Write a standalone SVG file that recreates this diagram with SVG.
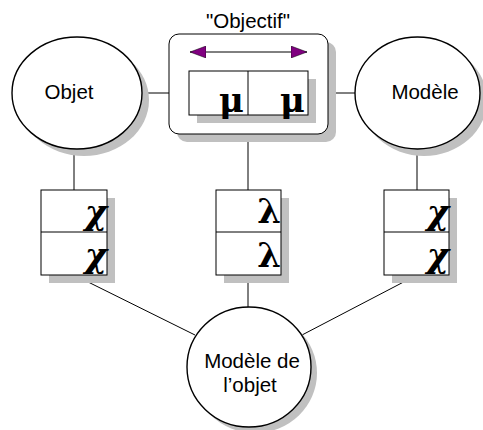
<svg xmlns="http://www.w3.org/2000/svg" width="483" height="430" viewBox="0 0 483 430">
<defs>
<style>
.sh{fill:#c0c0c0;stroke:none}
.nd{fill:#fff;stroke:#000;stroke-width:1.4}
.bx{fill:#fff;stroke:#000;stroke-width:1}
.ln{stroke:#000;stroke-width:1;fill:none}
.lb{font-family:"Liberation Sans",Arial,sans-serif;font-size:20.5px;fill:#000;text-anchor:middle}
.gk{font-family:"DejaVu Serif",serif;font-size:34px;font-weight:bold;fill:#000;text-anchor:end}
.gi{font-style:italic}
</style>
<marker id="ah" viewBox="0 0 16 12" refX="16" refY="6" markerWidth="16" markerHeight="12" markerUnits="userSpaceOnUse" orient="auto-start-reverse">
<path d="M0,0 L16,6 L0,12 Z" fill="#800080" stroke="#000" stroke-width="0.5"/>
</marker>
</defs>
<rect width="483" height="430" fill="#fff"/>
<g id="connectors">
<line class="ln" x1="142" y1="93" x2="189" y2="93"/>
<line class="ln" x1="308" y1="93" x2="355" y2="93"/>
<line class="ln" x1="74" y1="149" x2="74" y2="190"/>
<line class="ln" x1="417" y1="149" x2="417" y2="190"/>
<line class="ln" x1="248" y1="134" x2="248" y2="190"/>
<line class="ln" x1="248" y1="275" x2="248" y2="307"/>
<line class="ln" x1="74" y1="275" x2="195" y2="335"/>
<line class="ln" x1="417" y1="275" x2="302" y2="335"/>
</g>
<g id="objet">
<ellipse class="sh" cx="84" cy="100" rx="65" ry="56"/>
<ellipse class="nd" cx="77" cy="93" rx="65" ry="56"/>
<text class="lb" x="69" y="99">Objet</text>
</g>
<g id="modele">
<ellipse class="sh" cx="424" cy="100" rx="63" ry="56"/>
<ellipse class="nd" cx="417.5" cy="93" rx="62.5" ry="56"/>
<text class="lb" x="425" y="99">Modèle</text>
</g>
<g id="objectif">
<text class="lb" x="248" y="28">"Objectif"</text>
<rect class="sh" x="177" y="42" width="159" height="100" rx="10"/>
<rect class="bx" x="169" y="34" width="159" height="100" rx="10"/>
<line class="ln" x1="190" y1="52" x2="307" y2="52" marker-start="url(#ah)" marker-end="url(#ah)"/>
<rect class="sh" x="197" y="79" width="119" height="44"/>
<rect class="bx" x="189" y="71" width="119" height="44"/>
<line class="ln" x1="248" y1="71" x2="248" y2="115"/>
<text class="gk" x="244" y="112">μ</text>
<text class="gk" x="305" y="112">μ</text>
</g>
<g id="chi-left">
<rect class="sh" x="49" y="198" width="66" height="85"/>
<rect class="bx" x="41" y="190" width="66" height="85"/>
<line class="ln" x1="41" y1="232" x2="107" y2="232"/>
<text class="gk gi" x="107" y="224">χ</text>
<text class="gk gi" x="107" y="267">χ</text>
</g>
<g id="lambda">
<rect class="sh" x="224" y="198" width="65" height="85"/>
<rect class="bx" x="216" y="190" width="65" height="85"/>
<line class="ln" x1="216" y1="232" x2="281" y2="232"/>
<text class="gk" x="281" y="223">λ</text>
<text class="gk" x="281" y="267">λ</text>
</g>
<g id="chi-right">
<rect class="sh" x="392" y="198" width="65" height="85"/>
<rect class="bx" x="384" y="190" width="65" height="85"/>
<line class="ln" x1="384" y1="232" x2="449" y2="232"/>
<text class="gk gi" x="449" y="224">χ</text>
<text class="gk gi" x="449" y="267">χ</text>
</g>
<g id="modele-objet">
<ellipse class="sh" cx="255" cy="373" rx="62" ry="60"/>
<ellipse class="nd" cx="249" cy="367" rx="62" ry="60"/>
<text class="lb" x="252" y="368">Modèle de</text>
<text class="lb" x="250" y="392">l’objet</text>
</g>
</svg>
